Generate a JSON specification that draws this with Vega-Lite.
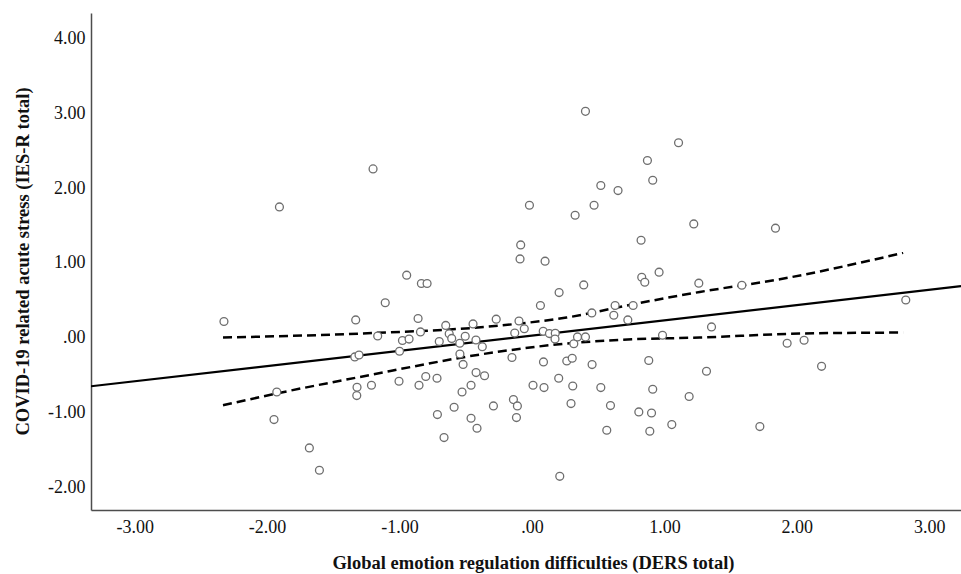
{
  "$schema": "https://vega.github.io/schema/vega-lite/v6.json",
  "width": 870,
  "height": 497,
  "autosize": "none",
  "padding": {"left": 91, "top": 13, "right": 0, "bottom": 64},
  "background": "white",
  "config": {
    "view": {"stroke": null},
    "axis": {
      "grid": false,
      "ticks": false,
      "domainColor": "#4d4d4d",
      "domainWidth": 1.5,
      "labelFont": "Liberation Serif",
      "labelFontSize": 18,
      "labelColor": "#111111",
      "titleFont": "Liberation Serif",
      "titleFontSize": 18.5,
      "titleFontWeight": "bold",
      "titleColor": "#111111",
      "labelFlush": false
    }
  },
  "datasets": {
    "pts": [
      {"x": -1.200, "y": 2.257}, {"x": -1.907, "y": 1.749}, {"x": -0.946, "y": 0.837},
      {"x": 0.404, "y": 3.026}, {"x": 1.107, "y": 2.607}, {"x": 0.872, "y": 2.369},
      {"x": 0.912, "y": 2.106}, {"x": 0.520, "y": 2.035}, {"x": 0.650, "y": 1.968},
      {"x": -0.019, "y": 1.772}, {"x": 0.469, "y": 1.772}, {"x": 0.326, "y": 1.638},
      {"x": 1.222, "y": 1.522}, {"x": 1.839, "y": 1.465}, {"x": 0.824, "y": 1.304},
      {"x": -0.085, "y": 1.241}, {"x": -0.090, "y": 1.054}, {"x": 0.099, "y": 1.024},
      {"x": 0.960, "y": 0.877}, {"x": 0.829, "y": 0.810}, {"x": 0.852, "y": 0.743},
      {"x": 1.260, "y": 0.730}, {"x": -2.326, "y": 0.218}, {"x": -1.331, "y": 0.239},
      {"x": -1.108, "y": 0.469}, {"x": -0.835, "y": 0.726}, {"x": -0.792, "y": 0.726},
      {"x": -0.860, "y": 0.258}, {"x": -0.651, "y": 0.166}, {"x": -0.445, "y": 0.186},
      {"x": -0.270, "y": 0.249}, {"x": -1.165, "y": 0.025}, {"x": -0.978, "y": -0.035},
      {"x": -0.928, "y": -0.016}, {"x": -0.842, "y": 0.079}, {"x": -0.625, "y": 0.055},
      {"x": -0.606, "y": -0.008}, {"x": -0.504, "y": 0.021}, {"x": -0.700, "y": -0.049},
      {"x": -0.545, "y": -0.072}, {"x": -0.423, "y": -0.029}, {"x": -0.375, "y": -0.119},
      {"x": -1.338, "y": -0.255}, {"x": -1.306, "y": -0.229}, {"x": -1.000, "y": -0.179},
      {"x": -0.544, "y": -0.216}, {"x": -0.520, "y": -0.355}, {"x": -1.927, "y": -0.723},
      {"x": -1.321, "y": -0.660}, {"x": -1.323, "y": -0.771}, {"x": -1.212, "y": -0.633},
      {"x": -1.004, "y": -0.580}, {"x": -0.853, "y": -0.633}, {"x": -0.802, "y": -0.516},
      {"x": -0.717, "y": -0.540}, {"x": -0.422, "y": -0.464}, {"x": -0.358, "y": -0.506},
      {"x": -0.460, "y": -0.633}, {"x": -0.528, "y": -0.723}, {"x": -1.948, "y": -1.092},
      {"x": -0.714, "y": -1.025}, {"x": -0.588, "y": -0.927}, {"x": -0.460, "y": -1.074},
      {"x": -0.415, "y": -1.208}, {"x": -0.291, "y": -0.910}, {"x": -0.664, "y": -1.332},
      {"x": -1.681, "y": -1.471}, {"x": -1.605, "y": -1.769}, {"x": 0.391, "y": 0.707},
      {"x": 1.585, "y": 0.703}, {"x": 0.205, "y": 0.605}, {"x": 0.064, "y": 0.432},
      {"x": 0.628, "y": 0.432}, {"x": 0.764, "y": 0.432}, {"x": 0.452, "y": 0.333},
      {"x": 0.618, "y": 0.302}, {"x": 0.724, "y": 0.239}, {"x": -0.098, "y": 0.225},
      {"x": -0.130, "y": 0.064}, {"x": -0.058, "y": 0.122}, {"x": 0.085, "y": 0.088},
      {"x": 0.132, "y": 0.057}, {"x": 0.176, "y": 0.061}, {"x": 0.174, "y": -0.015},
      {"x": 0.316, "y": -0.079}, {"x": 0.344, "y": 0.012}, {"x": 0.404, "y": 0.012},
      {"x": 0.986, "y": 0.035}, {"x": 1.356, "y": 0.146}, {"x": 1.927, "y": -0.072},
      {"x": -0.151, "y": -0.263}, {"x": 0.087, "y": -0.322}, {"x": 0.263, "y": -0.309},
      {"x": 0.304, "y": -0.273}, {"x": 0.454, "y": -0.357}, {"x": 0.882, "y": -0.303},
      {"x": 1.318, "y": -0.446}, {"x": 0.202, "y": -0.540}, {"x": 0.008, "y": -0.633},
      {"x": 0.091, "y": -0.664}, {"x": 0.308, "y": -0.643}, {"x": 0.520, "y": -0.664},
      {"x": 0.912, "y": -0.687}, {"x": 1.187, "y": -0.784}, {"x": -0.140, "y": -0.825},
      {"x": -0.110, "y": -0.910}, {"x": -0.117, "y": -1.065}, {"x": 0.295, "y": -0.878},
      {"x": 0.593, "y": -0.905}, {"x": 0.807, "y": -0.990}, {"x": 0.903, "y": -1.004},
      {"x": 1.056, "y": -1.159}, {"x": 1.721, "y": -1.185}, {"x": 0.565, "y": -1.235},
      {"x": 0.890, "y": -1.248}, {"x": 0.210, "y": -1.850}, {"x": 2.823, "y": 0.506},
      {"x": 2.055, "y": -0.032}, {"x": 2.187, "y": -0.380}
    ],
    "fit": [
      {"x": -3.33, "y": -0.647},
      {"x": 3.24, "y": 0.690}
    ],
    "ci": [
      {"bound": "upper", "x": -2.333, "y": 0.004},
      {"bound": "upper", "x": -1.301, "y": 0.057},
      {"bound": "upper", "x": -0.243, "y": 0.164},
      {"bound": "upper", "x": 0.261, "y": 0.271},
      {"bound": "upper", "x": 0.764, "y": 0.449},
      {"bound": "upper", "x": 1.267, "y": 0.613},
      {"bound": "upper", "x": 1.872, "y": 0.783},
      {"bound": "upper", "x": 2.803, "y": 1.135},
      {"bound": "lower", "x": -2.333, "y": -0.901},
      {"bound": "lower", "x": -1.930, "y": -0.744},
      {"bound": "lower", "x": -1.301, "y": -0.523},
      {"bound": "lower", "x": -0.243, "y": -0.183},
      {"bound": "lower", "x": 0.261, "y": -0.076},
      {"bound": "lower", "x": 0.764, "y": -0.019},
      {"bound": "lower", "x": 1.267, "y": 0.004},
      {"bound": "lower", "x": 2.023, "y": 0.057},
      {"bound": "lower", "x": 2.803, "y": 0.071}
    ]
  },
  "encoding": {
    "x": {
      "field": "x",
      "type": "quantitative",
      "scale": {"domain": [-3.33, 3.24], "nice": false, "zero": false},
      "axis": {
        "values": [-3, -2, -1, 0, 1, 2, 3],
        "labelExpr": "datum.value == 0 ? '.00' : (datum.value < 0 ? '-' : '') + format(abs(datum.value), '.2f')",
        "labelPadding": 8,
        "title": "Global emotion regulation difficulties (DERS total)",
        "titleX": 442,
        "titleY": 52,
        "titleAlign": "center",
        "titleBaseline": "middle"
      }
    },
    "y": {
      "field": "y",
      "type": "quantitative",
      "scale": {"domain": [-2.30, 4.34], "nice": false, "zero": false},
      "axis": {
        "values": [-2, -1, 0, 1, 2, 3, 4],
        "labelExpr": "datum.value == 0 ? '.00' : (datum.value < 0 ? '-' : '') + format(abs(datum.value), '.2f')",
        "labelPadding": 6,
        "title": "COVID-19 related acute stress (IES-R total)",
        "titleX": -69,
        "titleY": 248,
        "titleAngle": -90,
        "titleAlign": "center",
        "titleBaseline": "middle"
      }
    }
  },
  "layer": [
    {
      "data": {"name": "fit"},
      "mark": {"type": "line", "color": "#000000", "strokeWidth": 2.2, "clip": true}
    },
    {
      "data": {"name": "ci"},
      "mark": {"type": "line", "color": "#000000", "strokeWidth": 2.5, "strokeDash": [9, 5], "interpolate": "monotone", "clip": true},
      "encoding": {"detail": {"field": "bound", "type": "nominal"}}
    },
    {
      "data": {"name": "pts"},
      "mark": {"type": "point", "shape": "circle", "filled": true, "fill": "white", "fillOpacity": 1, "opacity": 1, "stroke": "#6e6e6e", "strokeWidth": 1.3, "size": 62}
    }
  ]
}
